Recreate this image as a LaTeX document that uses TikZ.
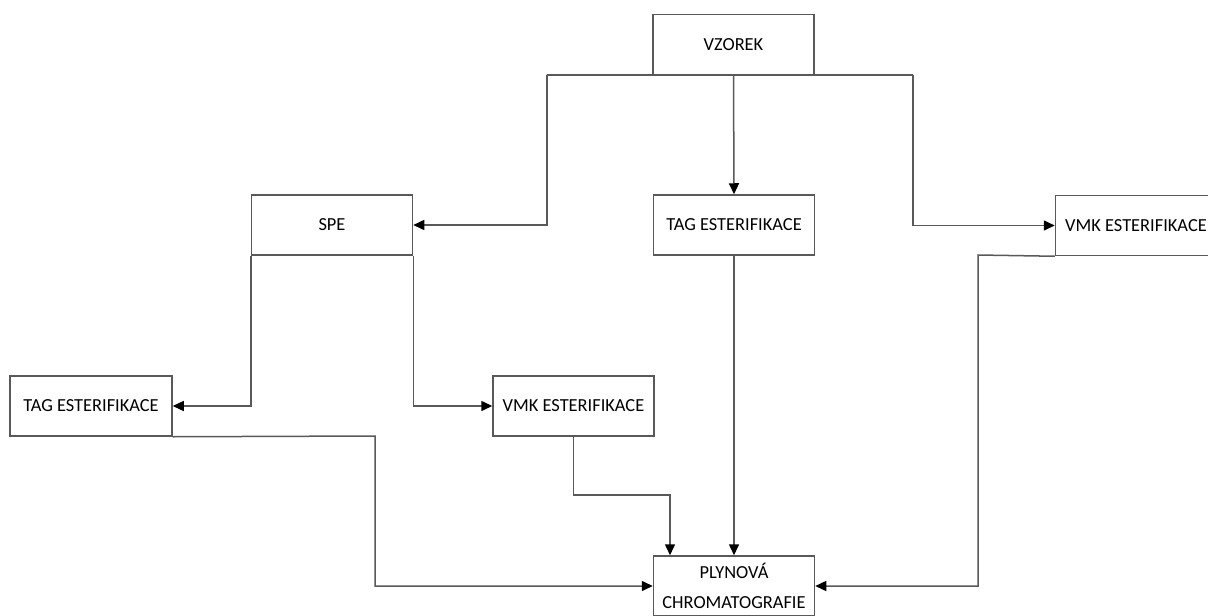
\documentclass[tikz,border=0pt]{standalone}
\usepackage{fontspec}
\setmainfont{Carlito}
\usetikzlibrary{arrows.meta, positioning}

\begin{document}
\begin{tikzpicture}[
    x=0.5pt, y=-0.5pt,
    box/.style={rectangle, draw=black!65, line width=0.75pt, minimum width=80.5pt, minimum height=30pt, inner sep=0pt, align=center, text=black, font=\fontsize{9.2}{15}\selectfont},
    arrow/.style={-{Triangle[length=5.5pt, width=5pt, color=black]}, draw=black!65, line width=0.75pt}
]
\useasboundingbox (0,0) rectangle (1208,615);

% Top
\node[box] (vzorek) at (733.5,44.5) {VZOREK};

% Row 2
\node[box] (spe) at (332,225) {SPE};
\node[box] (tagmid) at (734,225) {TAG ESTERIFIKACE};
\node[box] (vmkright) at (1136,225.5) {VMK ESTERIFIKACE};

% Row 3
\node[box, minimum width=81pt] (tagleft) at (91,406) {TAG ESTERIFIKACE};
\node[box] (vmkmid) at (573.5,406) {VMK ESTERIFIKACE};

% Bottom
\node[box] (gc) at (734,586) {PLYNOVÁ\\CHROMATOGRAFIE};

% Bend points
\coordinate (jl) at (547,75);
\coordinate (jr) at (913,75);
\coordinate (jt) at (375,436);
\coordinate (jv) at (670,495);
\coordinate (jg) at (978,255);

% Arrows
\draw[arrow] (vzorek.south) -| (jl) |- (spe.east);
\draw[arrow] (vzorek.south) -| (jr) |- (vmkright.west);
\draw[arrow] (vzorek.south) -- (tagmid.north);
\draw[arrow] (spe.south west) |- (tagleft.east);
\draw[arrow] (spe.south east) |- (vmkmid.west);
\draw[arrow] (tagleft.south east) -- (jt) |- (gc.west);
\draw[arrow] (vmkmid.south) |- (jv) -- (jv |- gc.north);
\draw[arrow] (tagmid.south) -- (gc.north);
\draw[arrow] (vmkright.south west) -- (jg) |- (gc.east);

\end{tikzpicture}
\end{document}
